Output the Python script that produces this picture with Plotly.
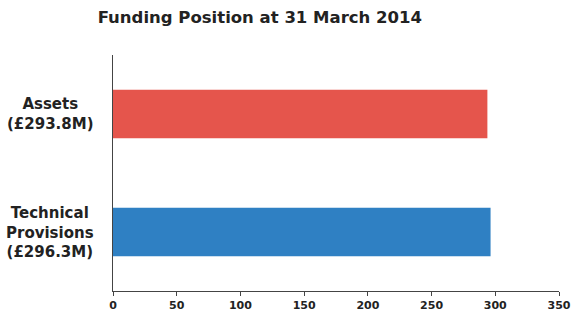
import plotly.graph_objects as go

categories = ["Assets", "Technical Provisions"]
labels = ["Assets<br>(£293.8M)", "Technical<br>Provisions<br>(£296.3M)"]
values = [293.8, 296.3]
colors = ["#E5554C", "#2F80C3"]
x_ticks = [0, 50, 100, 150, 200, 250, 300, 350]

FONT = "DejaVu Sans"

fig = go.Figure()
fig.add_trace(go.Bar(
    y=categories, x=values, orientation="h",
    marker=dict(color=colors, line=dict(width=0)),
    width=0.41, showlegend=False, hoverinfo="x+y",
))

for cat, lab in zip(categories, labels):
    fig.add_annotation(
        x=-0.141, xref="paper", y=cat, yref="y",
        text=lab, showarrow=False, align="center",
        xanchor="center", yanchor="middle",
        font=dict(family=FONT, size=15, color="#222222", weight="bold"),
    )

fig.update_layout(
    width=571, height=311,
    margin=dict(l=113, r=12, t=55, b=20, autoexpand=False),
    paper_bgcolor="white", plot_bgcolor="white",
    title=dict(
        text="Funding Position at 31 March 2014",
        x=0.455, xref="container", xanchor="center",
        y=1 - 17 / 311, yref="container", yanchor="middle",
        font=dict(family=FONT, size=16.5, color="#222222", weight="bold"),
    ),
    xaxis=dict(
        range=[0, 350], tickvals=x_ticks, ticktext=[str(t) for t in x_ticks],
        showgrid=False, zeroline=False, showline=True, linecolor="#444444", linewidth=1,
        ticks="outside", ticklen=4, tickcolor="#444444", automargin=False,
        tickfont=dict(family=FONT, size=11, color="#222222", weight="bold"),
    ),
    yaxis=dict(
        categoryorder="array", categoryarray=categories,
        autorange="reversed", automargin=False,
        showgrid=False, zeroline=False, showline=True, linecolor="#444444", linewidth=1,
        showticklabels=False, ticks="",
    ),
)

fig.write_html("out.html", config={"displayModeBar": False},
               post_script="document.body.style.margin='0';")
